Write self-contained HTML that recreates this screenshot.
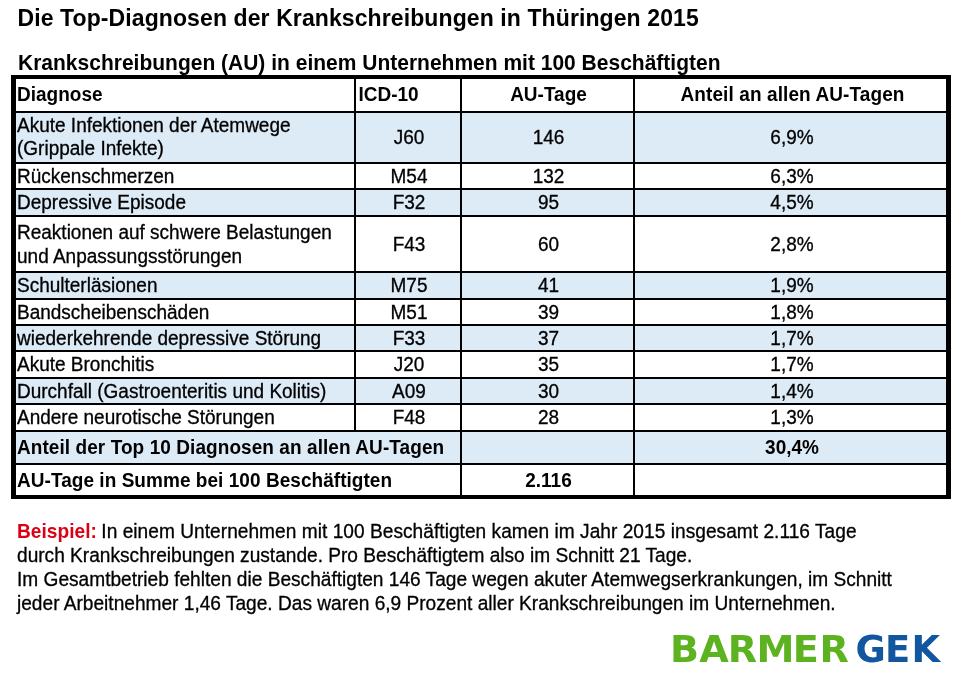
<!DOCTYPE html>
<html lang="de"><head><meta charset="utf-8"><title>Die Top-Diagnosen der Krankschreibungen in Thüringen 2015</title>
<style>
html,body{margin:0;padding:0;background:#fff;}
body{width:970px;height:679px;position:relative;overflow:hidden;font-family:"Liberation Sans", Arial, sans-serif;color:#000;}
.b{position:absolute;}
.t{position:absolute;white-space:nowrap;-webkit-text-stroke:0.3px currentColor;}
</style></head><body>
<div class="b" style="left:16px;top:113px;width:930px;height:49px;background:#ddebf7"></div>
<div class="b" style="left:16px;top:190px;width:930px;height:25px;background:#ddebf7"></div>
<div class="b" style="left:16px;top:273px;width:930px;height:25px;background:#ddebf7"></div>
<div class="b" style="left:16px;top:326px;width:930px;height:24px;background:#ddebf7"></div>
<div class="b" style="left:16px;top:379px;width:930px;height:24px;background:#ddebf7"></div>
<div class="b" style="left:16px;top:432px;width:930px;height:31px;background:#ddebf7"></div>
<div class="b" style="left:11px;top:111px;width:940px;height:2px;background:#000"></div>
<div class="b" style="left:11px;top:162px;width:940px;height:2px;background:#000"></div>
<div class="b" style="left:11px;top:188px;width:940px;height:2px;background:#000"></div>
<div class="b" style="left:11px;top:215px;width:940px;height:2px;background:#000"></div>
<div class="b" style="left:11px;top:271px;width:940px;height:2px;background:#000"></div>
<div class="b" style="left:11px;top:298px;width:940px;height:2px;background:#000"></div>
<div class="b" style="left:11px;top:324px;width:940px;height:2px;background:#000"></div>
<div class="b" style="left:11px;top:350px;width:940px;height:2px;background:#000"></div>
<div class="b" style="left:11px;top:377px;width:940px;height:2px;background:#000"></div>
<div class="b" style="left:11px;top:403px;width:940px;height:2px;background:#000"></div>
<div class="b" style="left:11px;top:430px;width:940px;height:2px;background:#000"></div>
<div class="b" style="left:11px;top:463px;width:940px;height:2px;background:#000"></div>
<div class="b" style="left:354px;top:75px;width:2px;height:357px;background:#000"></div>
<div class="b" style="left:460px;top:75px;width:2px;height:424px;background:#000"></div>
<div class="b" style="left:633px;top:75px;width:2px;height:424px;background:#000"></div>
<div class="b" style="left:11px;top:75px;width:940px;height:4px;background:#000"></div>
<div class="b" style="left:11px;top:495px;width:940px;height:4px;background:#000"></div>
<div class="b" style="left:11px;top:75px;width:5px;height:424px;background:#000"></div>
<div class="b" style="left:946px;top:75px;width:5px;height:424px;background:#000"></div>
<div class="t" style="left:17.5px;top:5px;font-size:23px;line-height:26px;font-weight:bold;-webkit-text-stroke:0;letter-spacing:0.1px;">Die Top-Diagnosen der Krankschreibungen in Thüringen 2015</div>
<div class="t" style="left:18px;top:51px;font-size:21px;line-height:23px;transform:scaleY(1.05);transform-origin:0 19px;font-weight:bold;-webkit-text-stroke:0;">Krankschreibungen (AU) in einem Unternehmen mit 100 Beschäftigten</div>
<div class="t" style="left:17px;top:84px;font-size:19px;line-height:21px;transform:scaleY(1.05);transform-origin:0 17px;font-weight:bold;-webkit-text-stroke:0;">Diagnose</div>
<div class="t" style="left:358.5px;top:84px;font-size:19px;line-height:21px;transform:scaleY(1.05);transform-origin:0 17px;font-weight:bold;-webkit-text-stroke:0;">ICD-10</div>
<div class="t" style="left:463px;top:84px;font-size:19px;line-height:21px;transform:scaleY(1.05);transform-origin:0 17px;font-weight:bold;-webkit-text-stroke:0;width:171px;text-align:center;">AU-Tage</div>
<div class="t" style="left:637.0px;top:84px;font-size:19px;line-height:21px;transform:scaleY(1.05);transform-origin:0 17px;font-weight:bold;-webkit-text-stroke:0;width:311.0px;text-align:center;letter-spacing:0.1px;">Anteil an allen AU-Tagen</div>
<div class="t" style="left:17px;top:114.5px;font-size:19px;line-height:21px;transform:scaleY(1.05);transform-origin:0 17px;">Akute Infektionen der Atemwege</div>
<div class="t" style="left:17px;top:137.7px;font-size:19px;line-height:21px;transform:scaleY(1.05);transform-origin:0 17px;">(Grippale Infekte)</div>
<div class="t" style="left:357px;top:126.5px;font-size:19px;line-height:21px;transform:scaleY(1.05);transform-origin:0 17px;width:104px;text-align:center;">J60</div>
<div class="t" style="left:463px;top:126.5px;font-size:19px;line-height:21px;transform:scaleY(1.05);transform-origin:0 17px;width:171px;text-align:center;">146</div>
<div class="t" style="left:636.5px;top:126.5px;font-size:19px;line-height:21px;transform:scaleY(1.05);transform-origin:0 17px;width:311.0px;text-align:center;">6,9%</div>
<div class="t" style="left:17px;top:165.5px;font-size:19px;line-height:21px;transform:scaleY(1.05);transform-origin:0 17px;">Rückenschmerzen</div>
<div class="t" style="left:357px;top:165.5px;font-size:19px;line-height:21px;transform:scaleY(1.05);transform-origin:0 17px;width:104px;text-align:center;">M54</div>
<div class="t" style="left:463px;top:165.5px;font-size:19px;line-height:21px;transform:scaleY(1.05);transform-origin:0 17px;width:171px;text-align:center;">132</div>
<div class="t" style="left:636.5px;top:165.5px;font-size:19px;line-height:21px;transform:scaleY(1.05);transform-origin:0 17px;width:311.0px;text-align:center;">6,3%</div>
<div class="t" style="left:17px;top:191.5px;font-size:19px;line-height:21px;transform:scaleY(1.05);transform-origin:0 17px;">Depressive Episode</div>
<div class="t" style="left:357px;top:191.5px;font-size:19px;line-height:21px;transform:scaleY(1.05);transform-origin:0 17px;width:104px;text-align:center;">F32</div>
<div class="t" style="left:463px;top:191.5px;font-size:19px;line-height:21px;transform:scaleY(1.05);transform-origin:0 17px;width:171px;text-align:center;">95</div>
<div class="t" style="left:636.5px;top:191.5px;font-size:19px;line-height:21px;transform:scaleY(1.05);transform-origin:0 17px;width:311.0px;text-align:center;">4,5%</div>
<div class="t" style="left:17px;top:222px;font-size:19px;line-height:21px;transform:scaleY(1.05);transform-origin:0 17px;">Reaktionen auf schwere Belastungen</div>
<div class="t" style="left:17px;top:246px;font-size:19px;line-height:21px;transform:scaleY(1.05);transform-origin:0 17px;">und Anpassungsstörungen</div>
<div class="t" style="left:357px;top:234px;font-size:19px;line-height:21px;transform:scaleY(1.05);transform-origin:0 17px;width:104px;text-align:center;">F43</div>
<div class="t" style="left:463px;top:234px;font-size:19px;line-height:21px;transform:scaleY(1.05);transform-origin:0 17px;width:171px;text-align:center;">60</div>
<div class="t" style="left:636.5px;top:234px;font-size:19px;line-height:21px;transform:scaleY(1.05);transform-origin:0 17px;width:311.0px;text-align:center;">2,8%</div>
<div class="t" style="left:17px;top:275px;font-size:19px;line-height:21px;transform:scaleY(1.05);transform-origin:0 17px;">Schulterläsionen</div>
<div class="t" style="left:357px;top:275px;font-size:19px;line-height:21px;transform:scaleY(1.05);transform-origin:0 17px;width:104px;text-align:center;">M75</div>
<div class="t" style="left:463px;top:275px;font-size:19px;line-height:21px;transform:scaleY(1.05);transform-origin:0 17px;width:171px;text-align:center;">41</div>
<div class="t" style="left:636.5px;top:275px;font-size:19px;line-height:21px;transform:scaleY(1.05);transform-origin:0 17px;width:311.0px;text-align:center;">1,9%</div>
<div class="t" style="left:17px;top:302px;font-size:19px;line-height:21px;transform:scaleY(1.05);transform-origin:0 17px;">Bandscheibenschäden</div>
<div class="t" style="left:357px;top:302px;font-size:19px;line-height:21px;transform:scaleY(1.05);transform-origin:0 17px;width:104px;text-align:center;">M51</div>
<div class="t" style="left:463px;top:302px;font-size:19px;line-height:21px;transform:scaleY(1.05);transform-origin:0 17px;width:171px;text-align:center;">39</div>
<div class="t" style="left:636.5px;top:302px;font-size:19px;line-height:21px;transform:scaleY(1.05);transform-origin:0 17px;width:311.0px;text-align:center;">1,8%</div>
<div class="t" style="left:17px;top:327.5px;font-size:19px;line-height:21px;transform:scaleY(1.05);transform-origin:0 17px;">wiederkehrende depressive Störung</div>
<div class="t" style="left:357px;top:327.5px;font-size:19px;line-height:21px;transform:scaleY(1.05);transform-origin:0 17px;width:104px;text-align:center;">F33</div>
<div class="t" style="left:463px;top:327.5px;font-size:19px;line-height:21px;transform:scaleY(1.05);transform-origin:0 17px;width:171px;text-align:center;">37</div>
<div class="t" style="left:636.5px;top:327.5px;font-size:19px;line-height:21px;transform:scaleY(1.05);transform-origin:0 17px;width:311.0px;text-align:center;">1,7%</div>
<div class="t" style="left:17px;top:353.5px;font-size:19px;line-height:21px;transform:scaleY(1.05);transform-origin:0 17px;">Akute Bronchitis</div>
<div class="t" style="left:357px;top:353.5px;font-size:19px;line-height:21px;transform:scaleY(1.05);transform-origin:0 17px;width:104px;text-align:center;">J20</div>
<div class="t" style="left:463px;top:353.5px;font-size:19px;line-height:21px;transform:scaleY(1.05);transform-origin:0 17px;width:171px;text-align:center;">35</div>
<div class="t" style="left:636.5px;top:353.5px;font-size:19px;line-height:21px;transform:scaleY(1.05);transform-origin:0 17px;width:311.0px;text-align:center;">1,7%</div>
<div class="t" style="left:17px;top:381px;font-size:19px;line-height:21px;transform:scaleY(1.05);transform-origin:0 17px;">Durchfall (Gastroenteritis und Kolitis)</div>
<div class="t" style="left:357px;top:381px;font-size:19px;line-height:21px;transform:scaleY(1.05);transform-origin:0 17px;width:104px;text-align:center;">A09</div>
<div class="t" style="left:463px;top:381px;font-size:19px;line-height:21px;transform:scaleY(1.05);transform-origin:0 17px;width:171px;text-align:center;">30</div>
<div class="t" style="left:636.5px;top:381px;font-size:19px;line-height:21px;transform:scaleY(1.05);transform-origin:0 17px;width:311.0px;text-align:center;">1,4%</div>
<div class="t" style="left:17px;top:406.5px;font-size:19px;line-height:21px;transform:scaleY(1.05);transform-origin:0 17px;">Andere neurotische Störungen</div>
<div class="t" style="left:357px;top:406.5px;font-size:19px;line-height:21px;transform:scaleY(1.05);transform-origin:0 17px;width:104px;text-align:center;">F48</div>
<div class="t" style="left:463px;top:406.5px;font-size:19px;line-height:21px;transform:scaleY(1.05);transform-origin:0 17px;width:171px;text-align:center;">28</div>
<div class="t" style="left:636.5px;top:406.5px;font-size:19px;line-height:21px;transform:scaleY(1.05);transform-origin:0 17px;width:311.0px;text-align:center;">1,3%</div>
<div class="t" style="left:17px;top:436.5px;font-size:19px;line-height:21px;transform:scaleY(1.05);transform-origin:0 17px;font-weight:bold;-webkit-text-stroke:0;letter-spacing:0.07px;">Anteil der Top 10 Diagnosen an allen AU-Tagen</div>
<div class="t" style="left:636.5px;top:436.5px;font-size:19px;line-height:21px;transform:scaleY(1.05);transform-origin:0 17px;font-weight:bold;-webkit-text-stroke:0;width:311.0px;text-align:center;">30,4%</div>
<div class="t" style="left:17px;top:469.5px;font-size:19px;line-height:21px;transform:scaleY(1.05);transform-origin:0 17px;font-weight:bold;-webkit-text-stroke:0;letter-spacing:0.045px;">AU-Tage in Summe bei 100 Beschäftigten</div>
<div class="t" style="left:463px;top:469.5px;font-size:19px;line-height:21px;transform:scaleY(1.05);transform-origin:0 17px;font-weight:bold;-webkit-text-stroke:0;width:171px;text-align:center;">2.116</div>
<div class="t" style="left:17px;top:520.5px;font-size:19px;line-height:21px;transform:scaleY(1.05);transform-origin:0 17px;font-size:19.12px;letter-spacing:0.035px;"><span style="color:#dc0014;font-weight:bold;-webkit-text-stroke:0;margin-right:-1px">Beispiel:</span> In einem Unternehmen mit 100 Beschäftigten kamen im Jahr 2015 insgesamt 2.116 Tage</div>
<div class="t" style="left:17px;top:544.5px;font-size:19px;line-height:21px;transform:scaleY(1.05);transform-origin:0 17px;font-size:19.12px;">durch Krankschreibungen zustande. Pro Beschäftigtem also im Schnitt 21 Tage.</div>
<div class="t" style="left:17px;top:568.5px;font-size:19px;line-height:21px;transform:scaleY(1.05);transform-origin:0 17px;font-size:19.12px;">Im Gesamtbetrieb fehlten die Beschäftigten 146 Tage wegen akuter Atemwegserkrankungen, im Schnitt</div>
<div class="t" style="left:17px;top:592.5px;font-size:19px;line-height:21px;transform:scaleY(1.05);transform-origin:0 17px;font-size:19.12px;">jeder Arbeitnehmer 1,46 Tage. Das waren 6,9 Prozent aller Krankschreibungen im Unternehmen.</div>
<svg class="b" style="left:650px;top:615px" width="310" height="60" viewBox="0 0 310 60">
<g font-family="DejaVu Sans, sans-serif" font-weight="bold" font-size="37.5">
<text transform="scale(1.018 1)" x="19.59 48.33 76.37 104.66 140.12 166.45" y="46.60000000000002" fill="#5db31f" stroke="#fff" stroke-width="0">BARMER</text>
<text transform="scale(0.985 1)" x="208.76 238.52 265.53" y="46.60000000000002" fill="#1256a0" stroke="#fff" stroke-width="0">GEK</text>
</g></svg>
</body></html>
